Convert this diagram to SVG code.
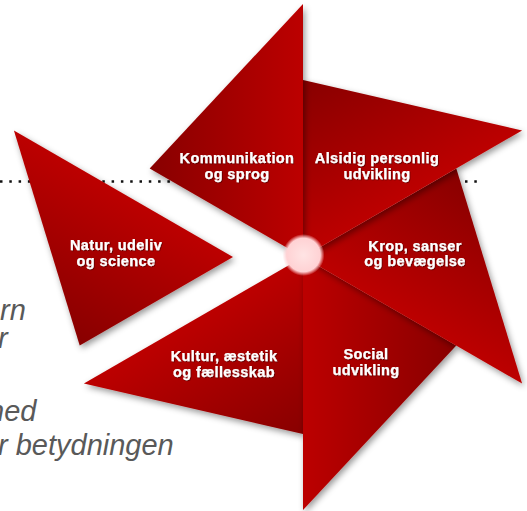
<svg xmlns="http://www.w3.org/2000/svg" width="527" height="511" viewBox="0 0 527 511">
<style>
.lbl{font-family:"Liberation Sans",Arial,sans-serif;font-weight:bold;font-size:14.5px;fill:#fff;stroke:#fff;stroke-width:0.25px;text-anchor:middle;letter-spacing:0.4px}
.bg{font-family:"Liberation Sans",Arial,sans-serif;font-style:italic;font-size:29px;fill:#595959}
.tri{fill:url(#red)}
</style>
<defs>
<linearGradient id="red" gradientUnits="userSpaceOnUse" x1="149.7" y1="168.5" x2="303" y2="168.5">
<stop offset="0" stop-color="#880000"/>
<stop offset="1" stop-color="#bc0000"/>
</linearGradient>
<radialGradient id="hub">
<stop offset="0" stop-color="#ffe4e4"/>
<stop offset="0.8" stop-color="#ffd2d4"/>
<stop offset="1" stop-color="#ffd2d4" stop-opacity="0"/>
</radialGradient>
<filter id="sh" x="-20%" y="-20%" width="140%" height="140%">
<feDropShadow dx="2" dy="3" stdDeviation="3" flood-color="#000" flood-opacity="0.4"/>
</filter>
<filter id="ts" x="-10%" y="-30%" width="120%" height="160%">
<feDropShadow dx="0.8" dy="0.8" stdDeviation="0.6" flood-color="#400000" flood-opacity="0.7"/>
</filter>
</defs>
<g id="background-text">
<text class="bg" x="0" y="320">rn</text>
<text class="bg" x="-2" y="348">r</text>
<text class="bg" x="-12" y="421">ned</text>
<text class="bg" x="-2" y="455">r betydningen</text>
</g>
<g id="connectors">
<line x1="0" y1="181.5" x2="482" y2="181.5" stroke="#111" stroke-width="2.5" stroke-dasharray="2.5 6.8"/>
</g>
<g id="natur" filter="url(#sh)">
<polygon class="tri" points="303,257 303,4 149.7,168.5" transform="translate(-70 0) rotate(300 303 257)"/>
</g>
<g id="kultur" filter="url(#sh)">
<polygon class="tri" points="303,257 303,4 149.7,168.5" transform="rotate(240 303 257)"/>
</g>
<g id="social" filter="url(#sh)">
<polygon class="tri" points="303,257 303,4 149.7,168.5" transform="rotate(180 303 257)"/>
</g>
<g id="krop" filter="url(#sh)">
<polygon class="tri" points="303,257 303,4 149.7,168.5" transform="rotate(120 303 257)"/>
</g>
<g id="alsidig" filter="url(#sh)">
<polygon class="tri" points="303,257 303,4 149.7,168.5" transform="rotate(60 303 257)"/>
</g>
<g id="kommunikation" filter="url(#sh)">
<polygon class="tri" points="303,257 303,4 149.7,168.5"/>
</g>
<g id="labels" filter="url(#ts)">
<text class="lbl" x="237" y="163">Kommunikation</text>
<text class="lbl" x="237" y="179">og sprog</text>
<text class="lbl" x="377" y="163">Alsidig personlig</text>
<text class="lbl" x="377" y="179">udvikling</text>
<text class="lbl" x="116" y="250">Natur, udeliv</text>
<text class="lbl" x="116" y="266">og science</text>
<text class="lbl" x="415" y="251">Krop, sanser</text>
<text class="lbl" x="415" y="266">og bevægelse</text>
<text class="lbl" x="224" y="361">Kultur, æstetik</text>
<text class="lbl" x="224" y="377">og fællesskab</text>
<text class="lbl" x="366" y="359">Social</text>
<text class="lbl" x="366" y="375">udvikling</text>
</g>
<g id="hub">
<circle cx="303.5" cy="255" r="21" fill="url(#hub)"/>
</g>
</svg>
